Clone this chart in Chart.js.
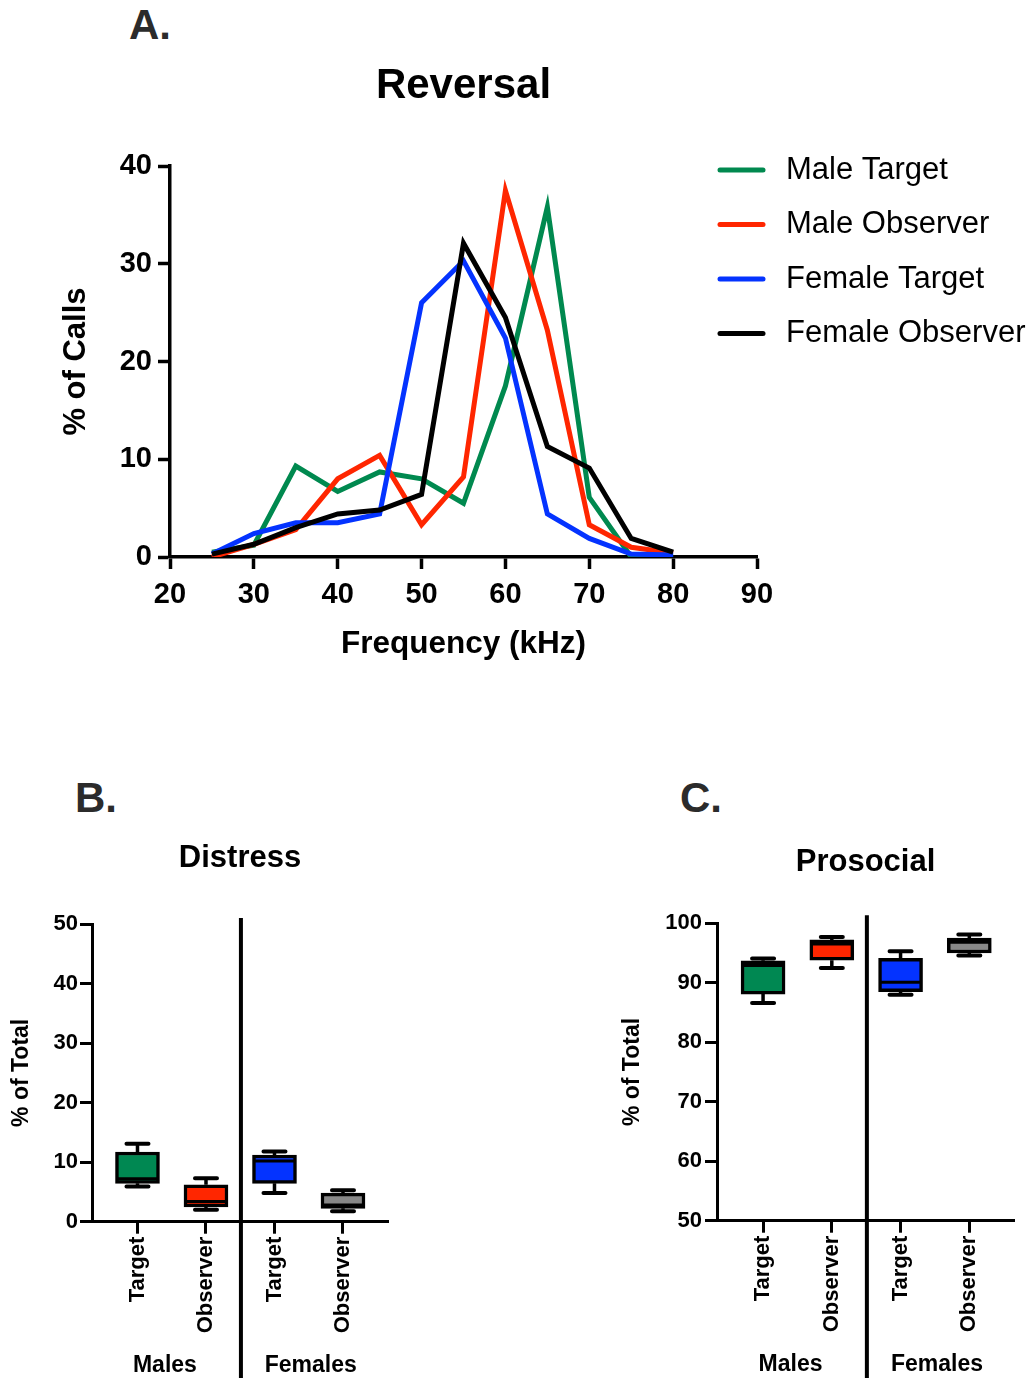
<!DOCTYPE html>
<html>
<head>
<meta charset="utf-8">
<script src="https://cdn.jsdelivr.net/npm/chart.js@4.4.0/dist/chart.umd.min.js"></script>
<style>
  body { margin: 0; background: #fff; width: 1033px; height: 1378px; position: relative; overflow: hidden; font-family: "Liberation Sans", Arial, sans-serif; }
  canvas { position: absolute; }
  .panel { position: absolute; font-weight: bold; font-size: 42px; line-height: 42px; color: #2b2b2b; }
</style>
</head>
<body>
<div class="panel" style="left:129px; top:4px;">A.</div>
<div class="panel" style="left:75px; top:777px;">B.</div>
<div class="panel" style="left:680px; top:777px;">C.</div>
<canvas id="reversal" width="1033" height="700" style="left:0; top:0;"></canvas>
<canvas id="distress" width="400" height="558" style="left:0; top:820px;"></canvas>
<canvas id="prosocial" width="423" height="558" style="left:610px; top:820px;"></canvas>
<script>
// panel A - call frequency distribution
const freqs = [25, 30, 35, 40, 45, 50, 55, 60, 65, 70, 75, 80];
const maleTarget = [0.5, 1.2, 9.3, 6.7, 8.7, 8.0, 5.5, 17.5, 35.8, 6.1, 0, 0];
const maleObserver = [0, 1.3, 2.8, 8.0, 10.4, 3.3, 8.2, 37.5, 23.2, 3.3, 1.0, 0.4];
const femaleTarget = [0.3, 2.4, 3.5, 3.5, 4.4, 26.0, 30.3, 22.4, 4.4, 1.9, 0.3, 0.2];
const femaleObserver = [0.3, 1.3, 3.0, 4.4, 4.8, 6.4, 32.1, 24.5, 11.3, 9.1, 1.9, 0.5];
const seriesNames = ['Male Target', 'Male Observer', 'Female Target', 'Female Observer'];

// panels B and C - box plots
const groupLabels = ['Target', 'Observer', 'Target', 'Observer'];
const sexLabels = ['Males', 'Females'];

const distressMin = [5.9, 2.0, 4.8, 1.75];
const distressQ1 = [6.45, 2.5, 6.45, 2.25];
const distressMedian = [7.2, 3.4, 10.2, 2.8];
const distressQ3 = [11.7, 6.2, 11.2, 4.8];
const distressMax = [13.1, 7.3, 11.8, 5.3];

const prosocialMin = [86.6, 92.5, 88.0, 94.6];
const prosocialQ1 = [88.1, 93.8, 88.5, 95.0];
const prosocialMedian = [92.9, 96.5, 90.1, 96.8];
const prosocialQ3 = [93.7, 97.2, 94.1, 97.5];
const prosocialMax = [94.1, 97.7, 95.3, 98.1];

const lineColors = ['#00894F', '#FF2600', '#0433FF', '#000000'];
const boxColors = ['#008852', '#FF2600', '#0433FF', '#888888'];

Chart.defaults.font.family = '"Liberation Sans", Arial, sans-serif';
Chart.defaults.color = '#000';

function bold(size) {
    return { size: size, weight: 'bold' };
}

// legend sits beside the plot, partly above the x axis, so draw it ourselves
const sideLegend = {
    id: 'sideLegend',
    afterDraw(chart) {
        const ctx = chart.ctx;
        ctx.save();
        ctx.font = '31px "Liberation Sans", Arial, sans-serif';
        ctx.textBaseline = 'middle';
        ctx.fillStyle = '#000';
        ctx.lineCap = 'round';
        ctx.lineWidth = 5;
        chart.data.datasets.forEach((ds, i) => {
            let y = 170 + i * 54.5;
            ctx.strokeStyle = ds.borderColor;
            ctx.beginPath();
            ctx.moveTo(720, y);
            ctx.lineTo(763, y);
            ctx.stroke();
            ctx.fillText(ds.label, 786, y);
        });
        ctx.restore();
    }
};

new Chart(document.getElementById('reversal'), {
    type: 'line',
    data: {
        datasets: [maleTarget, maleObserver, femaleTarget, femaleObserver].map((vals, i) => ({
            label: seriesNames[i],
            data: vals.map((v, j) => ({ x: freqs[j], y: v })),
            borderColor: lineColors[i],
            backgroundColor: lineColors[i],
            borderWidth: 5,
            pointRadius: 0,
            tension: 0,
            order: 4 - i
        }))
    },
    options: {
        responsive: false,
        animation: false,
        layout: { padding: { top: 0, left: 0, right: 276, bottom: 0 } },
        plugins: {
            legend: { display: false },
            tooltip: { enabled: false },
            title: {
                display: true, text: 'Reversal', fullSize: false,
                font: bold(42), color: '#000',
                padding: { top: 60.8, bottom: 54.8 }
            }
        },
        scales: {
            x: {
                type: 'linear', min: 20, max: 90,
                ticks: { stepSize: 10, font: bold(29), color: '#000', padding: 9, maxRotation: 0 },
                grid: { display: true, drawOnChartArea: false, tickLength: 12, tickWidth: 3.5, tickColor: '#000' },
                border: { display: true, width: 3.5, color: '#000' },
                title: { display: true, text: 'Frequency (kHz)', font: bold(31.5), color: '#000', padding: { top: 0, bottom: 37 } },
                afterFit: s => { s.height = 143; }
            },
            y: {
                min: 0, max: 40,
                ticks: { stepSize: 10, font: bold(29), color: '#000', padding: 6 },
                grid: { display: true, drawOnChartArea: false, tickLength: 12, tickWidth: 3.5, tickColor: '#000' },
                border: { display: true, width: 3.5, color: '#000' },
                title: { display: true, text: '% of Calls', font: bold(31), color: '#000', padding: { top: 58, bottom: 0 } },
                afterFit: s => { s.width = 170; }
            }
        }
    },
    plugins: [sideLegend]
});

function whiskerPlugin(mins, medians, q1s, q3s, maxs) {
    return {
        id: 'whiskers',
        afterDatasetsDraw(chart) {
            const x = chart.scales.x, y = chart.scales.y, ctx = chart.ctx;
            ctx.save();
            ctx.strokeStyle = '#000';
            for (let i = 0; i < mins.length; i++) {
                let px = x.getPixelForValue(i);
                ctx.lineCap = 'butt';
                ctx.lineWidth = 3.5;
                ctx.beginPath();
                ctx.moveTo(px, y.getPixelForValue(q3s[i]));
                ctx.lineTo(px, y.getPixelForValue(maxs[i]));
                ctx.moveTo(px, y.getPixelForValue(q1s[i]));
                ctx.lineTo(px, y.getPixelForValue(mins[i]));
                ctx.stroke();

                ctx.lineCap = 'round';
                ctx.lineWidth = 4;
                ctx.beginPath();
                [mins[i], maxs[i]].forEach(v => {
                    let py = y.getPixelForValue(v);
                    ctx.moveTo(px - 11, py);
                    ctx.lineTo(px + 11, py);
                });
                ctx.stroke();

                // median
                ctx.lineCap = 'butt';
                ctx.lineWidth = 3;
                let pm = y.getPixelForValue(medians[i]);
                ctx.beginPath();
                ctx.moveTo(px - 20, pm);
                ctx.lineTo(px + 20, pm);
                ctx.stroke();
            }
            ctx.restore();
        }
    };
}

function dividerPlugin(value, overshoot) {
    return {
        id: 'divider',
        afterDraw(chart) {
            const ctx = chart.ctx;
            let px = chart.scales.x.getPixelForValue(value);
            ctx.save();
            ctx.strokeStyle = '#000';
            ctx.lineWidth = 4;
            ctx.beginPath();
            ctx.moveTo(px, chart.chartArea.top - overshoot);
            ctx.lineTo(px, chart.height);
            ctx.stroke();
            ctx.restore();
        }
    };
}

function boxChart(id, title, yMin, yMax, mins, q1s, medians, q3s, maxs, lay) {
    return new Chart(document.getElementById(id), {
        type: 'bar',
        data: {
            datasets: [{
                data: q1s.map((q, i) => ({ x: i, y: [q, q3s[i]] })),
                backgroundColor: boxColors,
                borderColor: '#000',
                borderWidth: 3.5,
                borderSkipped: false,
                barThickness: 44
            }]
        },
        options: {
            responsive: false,
            animation: false,
            layout: { padding: { top: 0, left: 0, right: lay.right, bottom: 0 } },
            plugins: {
                legend: { display: false },
                tooltip: { enabled: false },
                title: {
                    display: true, text: title, fullSize: false,
                    font: bold(31), color: '#000',
                    padding: { top: lay.titleTop, bottom: lay.titleBottom }
                }
            },
            scales: {
                x: {
                    type: 'linear', min: lay.xMin, max: lay.xMax, offset: false,
                    afterBuildTicks: s => { s.ticks = [0, 1, 2, 3].map(v => ({ value: v })); },
                    ticks: {
                        callback: v => groupLabels[v], font: bold(22), color: '#000',
                        padding: 3, minRotation: 90, maxRotation: 90, autoSkip: false
                    },
                    grid: { display: true, offset: false, drawOnChartArea: false, tickLength: 12, tickWidth: 3, tickColor: '#000' },
                    border: { display: true, width: 3, color: '#000' },
                    afterFit: s => { s.height = 118; }
                },
                x2: {
                    type: 'linear', position: 'bottom', weight: 1,
                    min: lay.xMin, max: lay.xMax, offset: false,
                    afterBuildTicks: s => { s.ticks = [{ value: 0.4 }, { value: 2.53 }]; },
                    ticks: {
                        callback: (v, i) => sexLabels[i], font: bold(23), color: '#000',
                        padding: lay.groupPad, maxRotation: 0, autoSkip: false
                    },
                    grid: { display: false, drawTicks: false },
                    border: { display: false },
                    afterFit: s => { s.height = lay.groupHeight; }
                },
                y: {
                    min: yMin, max: yMax,
                    ticks: { stepSize: 10, font: bold(22), color: '#000', padding: lay.tickPad },
                    grid: { display: true, drawOnChartArea: false, tickLength: 12, tickWidth: 3, tickColor: '#000' },
                    border: { display: true, width: 3, color: '#000' },
                    title: { display: true, text: '% of Total', font: bold(23), color: '#000', padding: { top: lay.yTitle, bottom: 0 } },
                    afterFit: s => { s.width = lay.yWidth; }
                }
            }
        },
        plugins: [whiskerPlugin(mins, medians, q1s, q3s, maxs), dividerPlugin(1.51, lay.overshoot)]
    });
}

boxChart('distress', 'Distress', 0, 50,
    distressMin, distressQ1, distressMedian, distressQ3, distressMax,
    { right: 12, titleTop: 19.4, titleBottom: 47.4, xMin: -0.664, xMax: 3.657,
      groupPad: 12, groupHeight: 38.3, tickPad: 2, yTitle: 8.2, yWidth: 92, overshoot: 6 });

boxChart('prosocial', 'Prosocial', 50, 100,
    prosocialMin, prosocialQ1, prosocialMedian, prosocialQ3, prosocialMax,
    { right: 19, titleTop: 23.4, titleBottom: 42.7, xMin: -0.67, xMax: 3.65,
      groupPad: 12.5, groupHeight: 39.3, tickPad: 3, yTitle: 9.2, yWidth: 107, overshoot: 8 });
</script>
</body>
</html>
